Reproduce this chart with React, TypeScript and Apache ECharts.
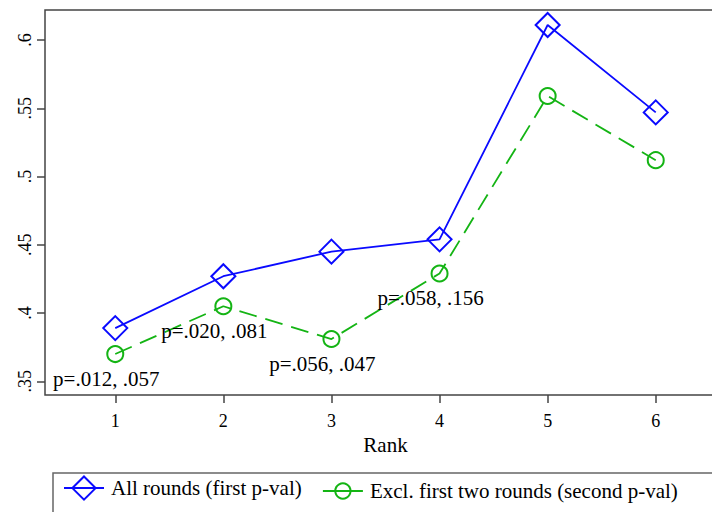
import React, { useEffect, useRef } from "react";
import * as echarts from "echarts";

const ranks = [1, 2, 3, 4, 5, 6];
const allRounds = [0.389, 0.427, 0.445, 0.454, 0.611, 0.547];
const exclFirstTwo = [0.370, 0.405, 0.381, 0.429, 0.559, 0.512];
const pLabels = ["p=.012, .057", "p=.020, .081", "p=.056, .047", "p=.058, .156", "", ""];
const yTicks = [0.35, 0.4, 0.45, 0.5, 0.55, 0.6];
const xTicks = [1, 2, 3, 4, 5, 6];
const seriesNames = ["All rounds (first p-val)", "Excl. first two rounds (second p-val)"];

const BLUE = "#0a0aff";
const GREEN = "#14b414";
const FONT = "'Liberation Serif', 'Times New Roman', serif";

export default function App() {
  const ref = useRef<HTMLDivElement>(null);
  useEffect(() => {
    if (!ref.current) return;
    const chart = echarts.init(ref.current, null, { renderer: "svg" });
    chart.setOption({
      animation: false,
      backgroundColor: "#ffffff",
      textStyle: { fontFamily: FONT, color: "#000" },
      grid: {
        left: 45,
        top: 10,
        right: 14,
        bottom: 117,
        show: true,
        borderColor: "#444",
        borderWidth: 1.5,
        backgroundColor: "transparent",
      },
      xAxis: {
        type: "value",
        min: 0.35,
        max: 6.65,
        name: "Rank",
        nameLocation: "middle",
        nameGap: 38,
        nameTextStyle: { fontFamily: FONT, fontSize: 21, color: "#000" },
        axisLine: { show: false },
        splitLine: { show: false },
        axisTick: { show: true, length: 8, customValues: xTicks, lineStyle: { color: "#444", width: 1.5 } },
        axisLabel: {
          customValues: xTicks,
          fontFamily: FONT,
          fontSize: 18,
          color: "#000",
          margin: 17,
        },
      },
      yAxis: {
        type: "value",
        min: 0.34,
        max: 0.622,
        axisLine: { show: false },
        splitLine: { show: false },
        axisTick: { show: true, length: 8, customValues: yTicks, lineStyle: { color: "#444", width: 1.5 } },
        axisLabel: {
          customValues: yTicks,
          rotate: 90,
          fontFamily: FONT,
          fontSize: 18,
          color: "#000",
          margin: 11,
          formatter: (v: number) => String(Number(v.toFixed(2))).replace(/^0/, ""),
        },
      },
      legend: [
        {
          data: [seriesNames[0]],
          left: 63,
          top: 475.5,
          padding: 0,
          itemWidth: 40,
          itemHeight: 29,
          textStyle: { fontFamily: FONT, fontSize: 21, color: "#000", padding: [0, 0, 0, 2] },
          lineStyle: { type: "solid" },
        },
        {
          data: [seriesNames[1]],
          left: 322,
          top: 480.5,
          padding: 0,
          itemWidth: 40,
          itemHeight: 19,
          textStyle: { fontFamily: FONT, fontSize: 21, color: "#000", padding: [0, 0, 0, 2] },
          lineStyle: { type: "solid", width: 1.8 },
        },
      ],
      graphic: [
        {
          type: "rect",
          shape: { x: 53, y: 473, width: 665, height: 60 },
          style: { fill: "none", stroke: "#666", lineWidth: 1.5 },
          silent: true,
        },
      ],
      series: [
        {
          name: seriesNames[0],
          type: "line",
          data: ranks.map((r, i) => [r, allRounds[i]]),
          symbol: "diamond",
          symbolSize: 24,
          showAllSymbol: true,
          lineStyle: { color: BLUE, width: 1.8, type: "solid" },
          itemStyle: { color: "rgba(255,255,255,0)", borderColor: BLUE, borderWidth: 2 },
          z: 3,
        },
        {
          name: seriesNames[1],
          type: "line",
          data: ranks.map((r, i) => ({
            value: [r, exclFirstTwo[i]],
            label: {
              show: pLabels[i] !== "",
              formatter: pLabels[i],
              position: "bottom",
              distance: 5,
              offset: [-9, 0],
              fontFamily: FONT,
              fontSize: 21,
              color: "#000",
            },
          })),
          symbol: "circle",
          symbolSize: 16,
          showAllSymbol: true,
          lineStyle: { color: GREEN, width: 1.8, type: [18, 9] },
          itemStyle: { color: "rgba(255,255,255,0)", borderColor: GREEN, borderWidth: 2 },
          z: 2,
        },
      ],
    });
    return () => chart.dispose();
  }, []);
  return (
    <div style={{ position: "fixed", left: 0, top: 0, width: 712, height: 512, overflow: "hidden", background: "#fff" }}>
      <div ref={ref} style={{ width: 740, height: 512 }} />
    </div>
  );
}
